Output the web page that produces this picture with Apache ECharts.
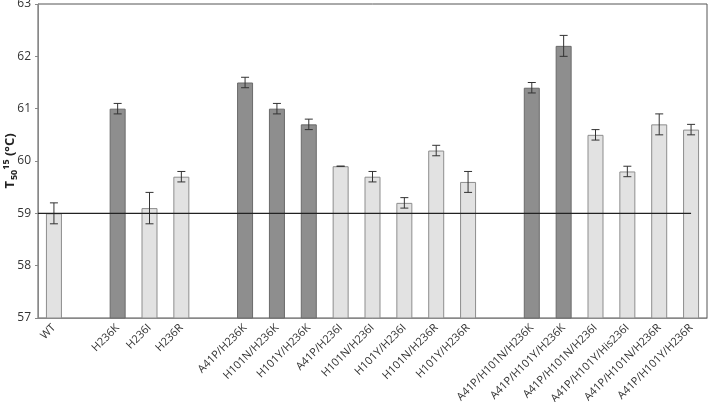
<!DOCTYPE html>
<html>
<head>
<meta charset="utf-8">
<script src="https://cdn.jsdelivr.net/npm/echarts@6/dist/echarts.min.js"></script>
<style>
  html, body { margin: 0; padding: 0; background: #fff; }
  #chart { width: 709px; height: 402px; }
</style>
</head>
<body>
<div id="chart"></div>
<script>
// categories ('' = empty gap slot)
const categories = ['WT', '', 'H236K', 'H236I', 'H236R', '',
  'A41P/H236K', 'H101N/H236K', 'H101Y/H236K', 'A41P/H236I', 'H101N/H236I',
  'H101Y/H236I', 'H101N/H236R', 'H101Y/H236R', '',
  'A41P/H101N/H236K', 'A41P/H101Y/H236K', 'A41P/H101N/H236I',
  'A41P/H101Y/His236I', 'A41P/H101N/H236R', 'A41P/H101Y/H236R'];
const t50 = [59.0, null, 61.0, 59.1, 59.7, null,
  61.5, 61.0, 60.7, 59.9, 59.7, 59.2, 60.2, 59.6, null,
  61.4, 62.2, 60.5, 59.8, 60.7, 60.6];
const errors = [0.2, null, 0.1, 0.3, 0.1, null,
  0.1, 0.1, 0.1, 0.0, 0.1, 0.1, 0.1, 0.2, null,
  0.1, 0.2, 0.1, 0.1, 0.2, 0.1];
// 1 = dark bar (H236K variants), 0 = light bar
const dark = [0, 0, 1, 0, 0, 0, 1, 1, 1, 0, 0, 0, 0, 0, 0, 1, 1, 0, 0, 0, 0];
const yTicks = [57, 58, 59, 60, 61, 62, 63];
const wtLevel = 59;

const barData = t50.map((v, i) => v == null ? '-' : {
  value: v,
  itemStyle: dark[i]
    ? { color: '#8e8e8e', borderColor: '#6a6a6a', borderWidth: 1 }
    : { color: '#e2e2e2', borderColor: '#8d8d8d', borderWidth: 1 }
});
const errData = [];
t50.forEach((v, i) => {
  if (v != null) errData.push([i, v - errors[i], v + errors[i]]);
});

const chart = echarts.init(document.getElementById('chart'));
chart.setOption({
  animation: false,
  textStyle: { fontFamily: 'Open Sans, DejaVu Sans, sans-serif' },
  grid: {
    left: 38, right: 2, top: 4, bottom: 84,
    outerBoundsMode: 'none', containLabel: false,
    show: true, borderColor: '#555', borderWidth: 1
  },
  xAxis: [{
    type: 'category',
    data: categories,
    axisLine: { lineStyle: { color: '#888' } },
    axisTick: { alignWithLabel: false, length: 4, lineStyle: { color: '#888' } },
    axisLabel: { interval: 0, rotate: 45, fontSize: 11, color: '#333', margin: 8 }
  }, {
    type: 'value',
    min: -0.5,
    max: categories.length - 0.5,
    show: false
  }],
  yAxis: {
    type: 'value',
    min: yTicks[0],
    max: yTicks[yTicks.length - 1],
    interval: 1,
    name: '{t|T}{sub|50}{sup|15}{t| (°C)}',
    nameLocation: 'middle',
    nameGap: 19,
    nameRotate: 90,
    nameMoveOverlap: false,
    nameTextStyle: {
      rich: {
        t: { fontSize: 13, fontWeight: 'bold', color: '#222' },
        sub: { fontSize: 9, fontWeight: 'bold', color: '#222', padding: [8, 0, 0, 1] },
        sup: { fontSize: 9, fontWeight: 'bold', color: '#222', padding: [0, 0, 8, 0] }
      }
    },
    axisLine: { show: true, onZero: false, lineStyle: { color: '#888' } },
    axisTick: { show: true, length: 3, lineStyle: { color: '#888' } },
    axisLabel: { fontSize: 12, color: '#333', margin: 7 },
    splitLine: { show: false }
  },
  series: [{
    type: 'bar',
    data: barData,
    barWidth: 16,
    z: 2
  }, {
    type: 'custom',
    data: errData,
    z: 4,
    renderItem: function (params, api) {
      const x = api.value(0);
      const lo = api.coord([x, api.value(1)]);
      const hi = api.coord([x, api.value(2)]);
      const cap = 4;
      const style = { stroke: '#333', lineWidth: 1 };
      return {
        type: 'group',
        children: [
          { type: 'line', shape: { x1: lo[0], y1: lo[1], x2: hi[0], y2: hi[1] }, style: style },
          { type: 'line', shape: { x1: lo[0] - cap, y1: lo[1], x2: lo[0] + cap, y2: lo[1] }, style: style },
          { type: 'line', shape: { x1: hi[0] - cap, y1: hi[1], x2: hi[0] + cap, y2: hi[1] }, style: style }
        ]
      };
    }
  }, {
    type: 'line',
    xAxisIndex: 1,
    data: [[-0.5, wtLevel], [categories.length - 1, wtLevel]],
    symbol: 'none',
    lineStyle: { color: '#222', width: 1.2 },
    z: 5
  }]
});
</script>
</body>
</html>
